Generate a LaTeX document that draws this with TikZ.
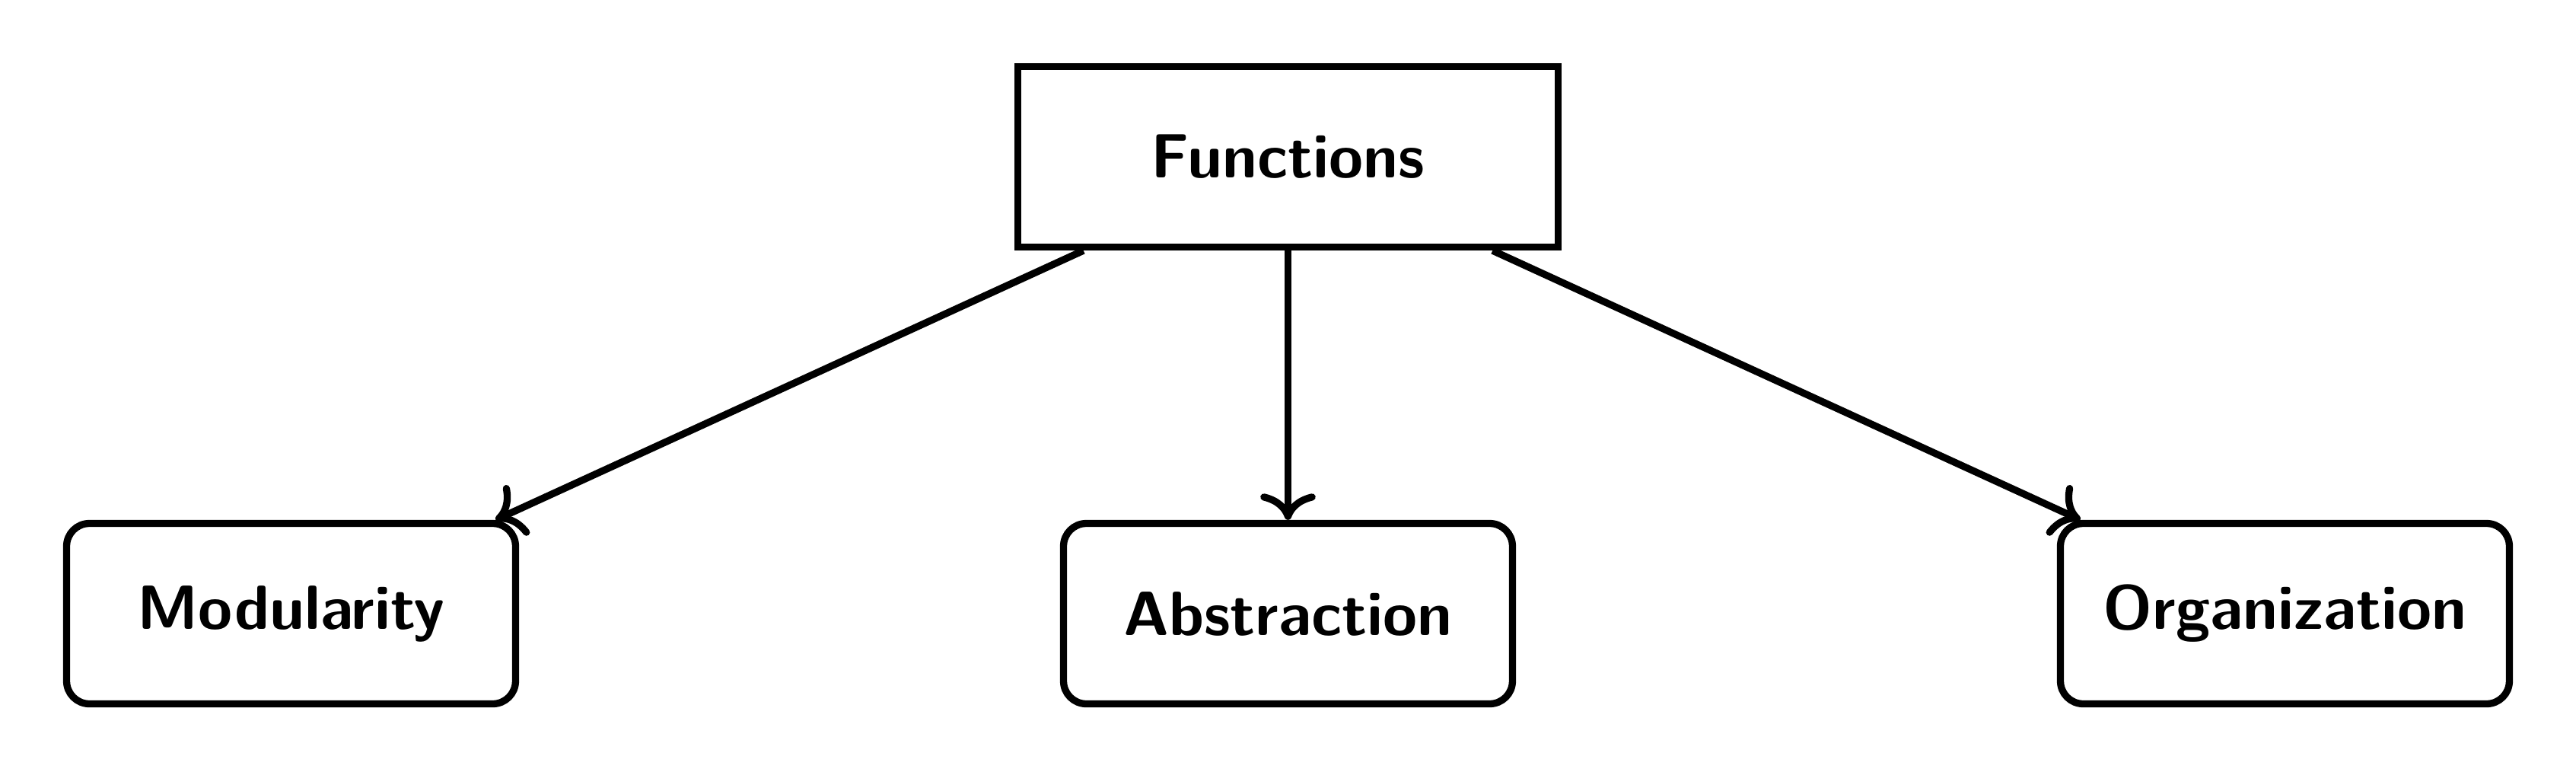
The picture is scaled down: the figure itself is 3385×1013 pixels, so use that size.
\documentclass[tikz,border=0pt]{standalone}
\usetikzlibrary{arrows.meta}
\begin{document}
\begin{tikzpicture}[x=0.1pt,y=0.1pt,
  line width=0.93pt,
  font=\fontsize{8.2}{10}\selectfont\sffamily\bfseries,
  topbox/.style={draw, rectangle, minimum width=71pt, minimum height=23.7pt, inner sep=0pt},
  leafbox/.style={draw, rectangle, rounded corners=3pt, minimum width=59pt, minimum height=23.7pt, inner sep=0pt},
  conn/.style={-{To[scale=0.95]}}]
\useasboundingbox (0,0) rectangle (3385,1013);
\node[topbox] (f) at (1692.5,807) {Functions};
\node[leafbox] (m) at (382.5,207) {Modularity};
\node[leafbox] (a) at (1692.5,207) {Abstraction};
\node[leafbox] (o) at (3002.5,207) {Organization};
\draw[conn] (f) -- (m);
\draw[conn] (f) -- (a);
\draw[conn] (f) -- (o);
\end{tikzpicture}
\end{document}
